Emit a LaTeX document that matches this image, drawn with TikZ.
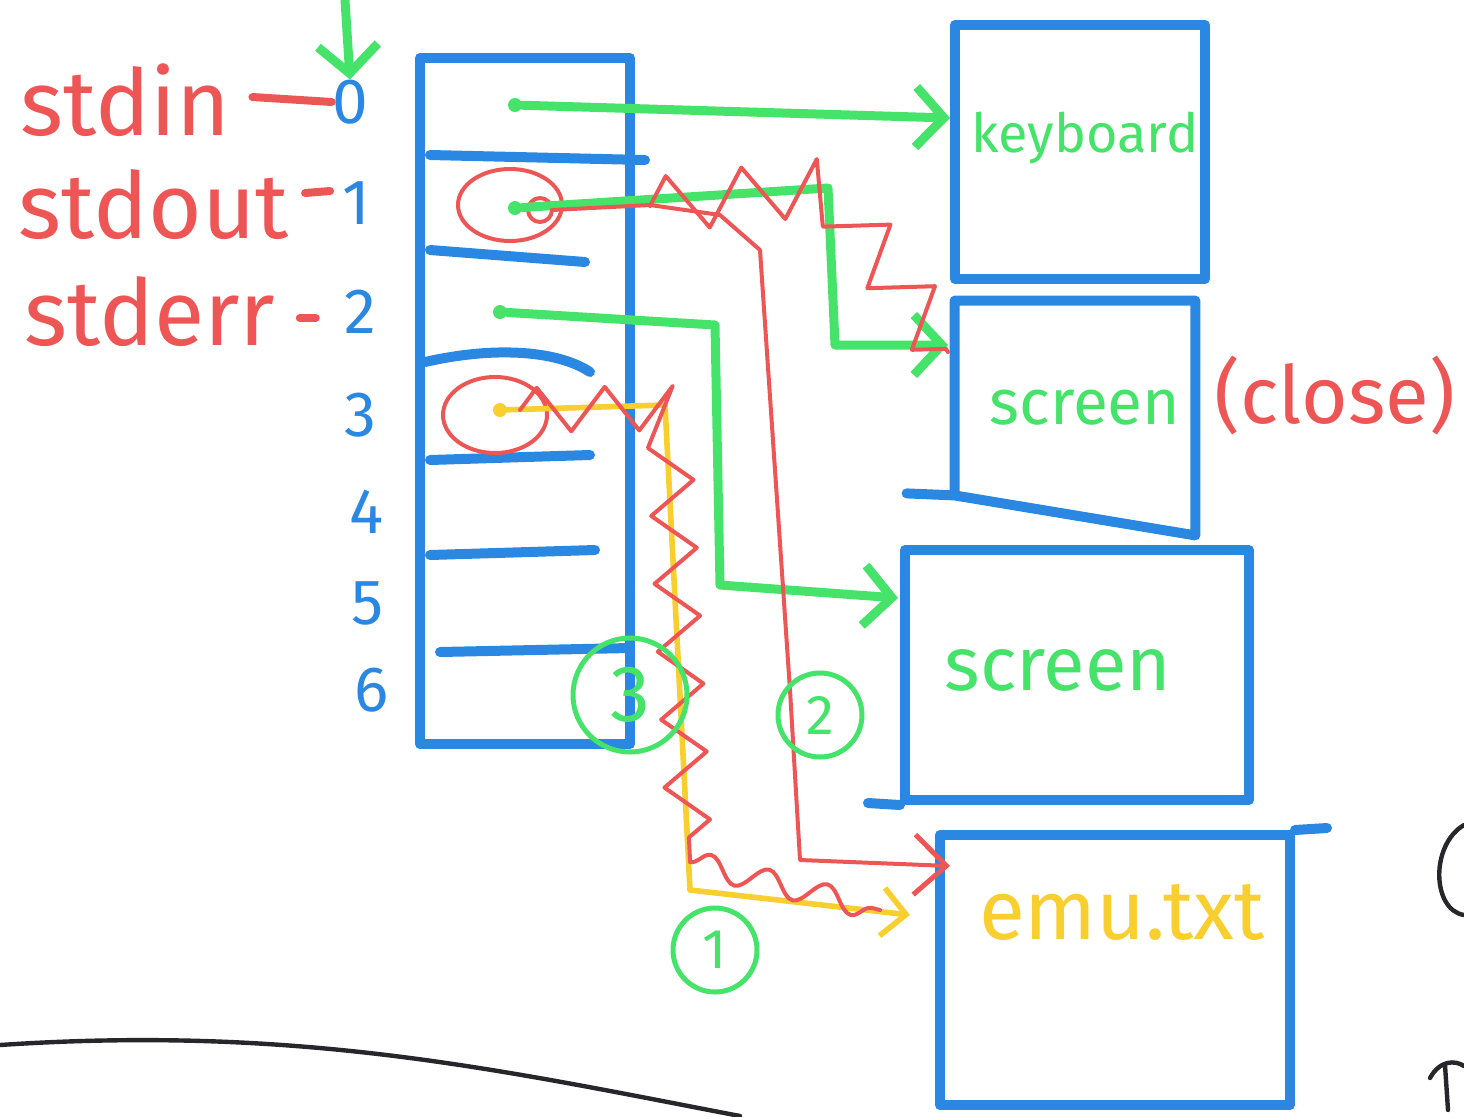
\documentclass[tikz,border=0pt]{standalone}
\usepackage{fontspec}
\setmainfont{Fira Sans}
\usetikzlibrary{arrows.meta,decorations.pathmorphing,calc}
\definecolor{bl}{HTML}{2A88E2}
\definecolor{gr}{HTML}{45E36A}
\definecolor{rd}{HTML}{EE5555}
\definecolor{yl}{HTML}{F8CF2E}
\definecolor{ink}{HTML}{26262B}
\begin{document}
\begin{tikzpicture}[x=0.5pt,y=-0.5pt,line cap=round,line join=round,
  fdbox/.style={draw=bl,line width=5pt,inner sep=0pt},
  bline/.style={draw=bl,line width=5pt},
  gline/.style={draw=gr,line width=4.5pt},
  rline/.style={draw=rd,line width=2pt},
  yline/.style={draw=yl,line width=2.8pt},
  garrow/.style={-{Straight Barb[length=14pt,width=30pt,line width=4.5pt]}},
  rarrow/.style={-{Straight Barb[length=16pt,width=30pt,line width=2.5pt]}},
  yarrow/.style={-{Straight Barb[length=12pt,width=24pt,line width=2.8pt]}},
  rlabel/.style={text=rd,font=\fontsize{46}{46}\selectfont,anchor=west,inner sep=0pt},
  num/.style={text=bl,font=\fontsize{32}{32}\selectfont,inner sep=0pt},
  dot/.style={circle,fill=#1,minimum size=7pt,inner sep=0pt},
  circnum/.style={circle,draw=gr,line width=2.5pt,text=gr,inner sep=0pt,minimum size=#1},
  zz/.style={decorate,decoration={zigzag,amplitude=11pt,segment length=34pt}},
  zzbig/.style={decorate,decoration={zigzag,amplitude=14pt,segment length=38pt}}
]
\useasboundingbox (0,0) rectangle (1464,1116);

% ---------------- fd table ----------------
\node[fdbox,minimum width=105pt,minimum height=343pt] (tbl) at (525,401) {};
\draw[bline] (430,155)--(645,160);
\draw[bline] (430,250)--(585,262);
\draw[bline] (425,362) .. controls (500,345) and (560,352) .. (590,372);
\draw[bline] (430,460)--(590,455);
\draw[bline] (430,555)--(595,550);
\draw[bline] (440,652)--(630,648);

% ---------------- labels ----------------
\node[rlabel] (lin) at (20,100) {stdin};
\node[rlabel] (lout) at (18,205) {stdout};
\node[rlabel] (lerr) at (24,312) {stderr};
\node[num] (n0) at (350,102) {0};
\node[num] (n1) at (356,203) {1};
\node[num] (n2) at (360,312) {2};
\node[num] (n3) at (360,415) {3};
\node[num] (n4) at (367,512) {4};
\node[num] (n5) at (368,603) {5};
\node[num] (n6) at (372,690) {6};
\draw[rline,line width=4pt] (lin.east) ++(22,-3) -- (n0.west);
\draw[rline,line width=4pt] (lout.east) ++(16,-12) -- ++(25,-2);
\draw[rline,line width=4pt] (lerr.east) ++(24,6) -- ++(16,0);

% green arrow above 0
\coordinate (gtop) at (345,0);
\draw[gline,garrow] (gtop) -- (n0.north);

% ---------------- boxes ----------------
\node[fdbox,minimum width=125pt,minimum height=127pt] (kbd) at (1080,152) {};
\node[inner sep=0pt,minimum width=120pt,minimum height=117pt] (scr1) at (1075,418) {};
\draw[bline] ($(scr1.south west)+(0,-40)$) -- (scr1.north west) -- (scr1.north east) -- (scr1.south east) -- ($(scr1.south west)+(0,-40)$) -- ++(-48,-2);
\node[fdbox,minimum width=172pt,minimum height=125pt] (scr2) at (1077,675) {};
\node[fdbox,minimum width=175pt,minimum height=135pt] (emu) at (1115,970) {};
\draw[bline] (scr2.south west) -- ++(-32,-2);
\draw[bline] (emu.north east) -- ++(32,-2);

\node[text=gr,font=\fontsize{27}{27}\selectfont] (tk) at (1085,138) {keyboard};
\node[text=gr,font=\fontsize{32}{32}\selectfont] (ts1) at (1085,408) {screen};
\node[text=gr,font=\fontsize{38}{38}\selectfont] (ts2) at (1058,670) {screen};
\node[text=yl,font=\fontsize{42}{42}\selectfont] (te) at (1122,912) {emu.txt};
\node[text=rd,font=\fontsize{40}{40}\selectfont] (tc) at (1335,395) {(close)};

% ---------------- dots & ellipses ----------------
\node[dot=gr] (d0) at (515,105) {};
\node[dot=gr] (d1) at (515,208) {};
\node[dot=gr] (d2) at (500,312) {};
\node[dot=yl] (d3) at (500,410) {};
\draw[rline] (510,205) ellipse [x radius=52, y radius=36];
\draw[rline] (540,210) circle [radius=12];
\draw[rline] (495,415) ellipse [x radius=52, y radius=38];

% ---------------- connectors ----------------
\coordinate (k0) at (950,118);
\coordinate (s1in) at (948,345);
\coordinate (s2in) at (898,598);
\coordinate (ein) at (950,866);
\coordinate (eyin) at (910,915);

% fd0 -> keyboard
\draw[gline,garrow] (d0) -- (k0);
% fd1 -> screen (green)
\draw[gline,garrow] (d1) -- (828,188) -- (835,345) -- (s1in);
% fd1 red zigzag (closed)
\draw[rline,zzbig] (650,206) -- (828,186) -- (948,352);
% fd2 green
\draw[gline,garrow] (d2) -- (715,325) -- (720,585) -- (s2in);
% fd2 red -> emu
\draw[rline,rarrow] (552,210) -- (650,205) -- (720,215) -- (760,250) -- (790,690) -- (800,860) -- (ein);
% fd3 yellow -> emu
\draw[yline,yarrow] (d3) -- (665,405) -- (690,890) -- (eyin);
% fd3 red zigzag
\draw[rline,zz] (520,410) -- (668,408) -- (690,860);
\draw[rline,decorate,decoration={snake,amplitude=6pt,segment length=30pt}] (690,862) -- (880,910);

% ---------------- circled numbers ----------------
\node[circnum=57pt,font=\fontsize{40}{40}\selectfont] (c3) at (630,695) {3};
\node[circnum=42pt,font=\fontsize{28}{28}\selectfont] (c2) at (820,715) {2};
\node[circnum=42pt,font=\fontsize{28}{28}\selectfont] (c1) at (715,950) {1};

% ---------------- black strokes ----------------
\draw[ink,line width=2.2pt] (0,1045) .. controls (300,1025) and (500,1070) .. (740,1116);
\draw[ink,line width=2.2pt] (1464,825) .. controls (1430,845) and (1432,910) .. (1464,915);
\draw[ink,line width=2.2pt] (1445,1065) -- (1448,1110);
\draw[ink,line width=2.2pt] (1430,1078) .. controls (1440,1060) and (1455,1060) .. (1464,1066);
\end{tikzpicture}
\end{document}
